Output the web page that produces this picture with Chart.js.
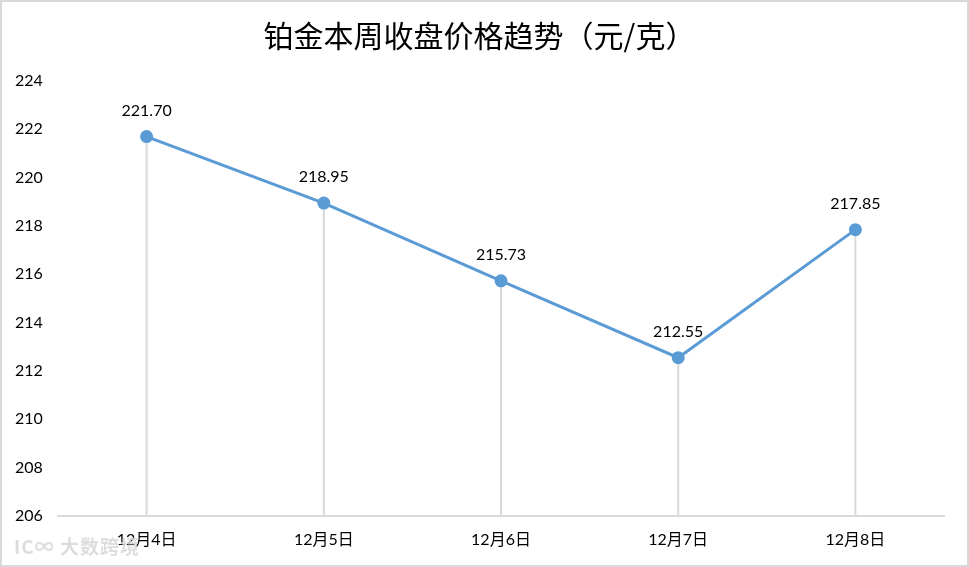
<!DOCTYPE html>
<html>
<head>
<meta charset="utf-8">
<script src="https://cdn.jsdelivr.net/npm/chart.js@4"></script>
<style>
    html, body { margin: 0; padding: 0; background: #fff; }
    #wrap {
        position: relative;
        width: 969px;
        height: 567px;
        box-sizing: border-box;
        border: 2px solid #d9d9d9;
    }
    #wrap canvas { display: block; }
    .mark {
        position: absolute;
        left: 12px;
        bottom: 6px;
        font-family: "Noto Sans CJK SC", sans-serif;
        font-size: 19px;
        font-weight: bold;
        color: rgba(215, 215, 215, 0.85);
        letter-spacing: 1px;
        pointer-events: none;
    }
</style>
</head>
<body>
<div id="wrap">
    <canvas id="lineChart" width="965" height="563"></canvas>
    <div class="mark">IC∞ 大数跨境</div>
</div>
<script>
// Data
const dates = ['12月4日', '12月5日', '12月6日', '12月7日', '12月8日'];
const prices = [221.70, 218.95, 215.73, 212.55, 217.85];
const yTicks = [206, 208, 210, 212, 214, 216, 218, 220, 222, 224];

const lineColor = '#5b9bd5';
const tickFont = { family: 'Lato, "Noto Sans CJK SC", sans-serif', size: 16 };

// Vertical drop lines from each point down to the x axis, plus value labels
const dropLines = {
    id: 'dropLines',
    beforeDatasetsDraw(chart) {
        const ctx = chart.ctx;
        const meta = chart.getDatasetMeta(0);
        const bottom = chart.chartArea.bottom;
        ctx.save();
        ctx.strokeStyle = '#d9d9d9';
        ctx.lineWidth = 2;
        meta.data.forEach(pt => {
            ctx.beginPath();
            ctx.moveTo(pt.x, pt.y);
            ctx.lineTo(pt.x, bottom);
            ctx.stroke();
        });
        ctx.restore();
    },
    afterDatasetsDraw(chart) {
        const ctx = chart.ctx;
        const meta = chart.getDatasetMeta(0);
        ctx.save();
        ctx.fillStyle = '#000';
        ctx.font = '16px ' + tickFont.family;
        ctx.textAlign = 'center';
        ctx.textBaseline = 'middle';
        meta.data.forEach((pt, i) => {
            ctx.fillText(prices[i].toFixed(2), pt.x, pt.y - 26);
        });
        ctx.restore();
    }
};

const ctx = document.getElementById('lineChart').getContext('2d');
new Chart(ctx, {
    type: 'line',
    data: {
        labels: dates,
        datasets: [{
            data: prices,
            borderColor: lineColor,
            backgroundColor: lineColor,
            borderWidth: 3,
            pointRadius: 5,
            pointHoverRadius: 5,
            tension: 0
        }]
    },
    plugins: [dropLines],
    options: {
        responsive: false,
        animation: false,
        layout: {
            padding: { left: 13, right: 23, top: 0, bottom: 0 }
        },
        scales: {
            x: {
                offset: true,
                afterFit(scale) {
                    scale.height = 49;
                },
                grid: { display: false, drawTicks: false },
                border: { display: true, color: '#d9d9d9', width: 2 },
                ticks: { color: '#000', font: tickFont, padding: 14 }
            },
            y: {
                min: 206,
                max: 224,
                afterBuildTicks(scale) {
                    scale.ticks = yTicks.map(v => ({ value: v }));
                },
                afterFit(scale) {
                    scale.width = 43;
                },
                grid: { display: false, drawTicks: false },
                border: { display: false },
                ticks: {
                    color: '#000',
                    font: tickFont,
                    crossAlign: 'far',
                    padding: 0
                }
            }
        },
        plugins: {
            legend: { display: false },
            tooltip: { enabled: false },
            title: {
                display: true,
                text: '铂金本周收盘价格趋势（元/克）',
                color: '#000',
                font: { family: '"Noto Sans CJK SC", sans-serif', size: 30, weight: 'normal' },
                padding: { top: 16, bottom: 27 }
            }
        }
    }
});
</script>
</body>
</html>
